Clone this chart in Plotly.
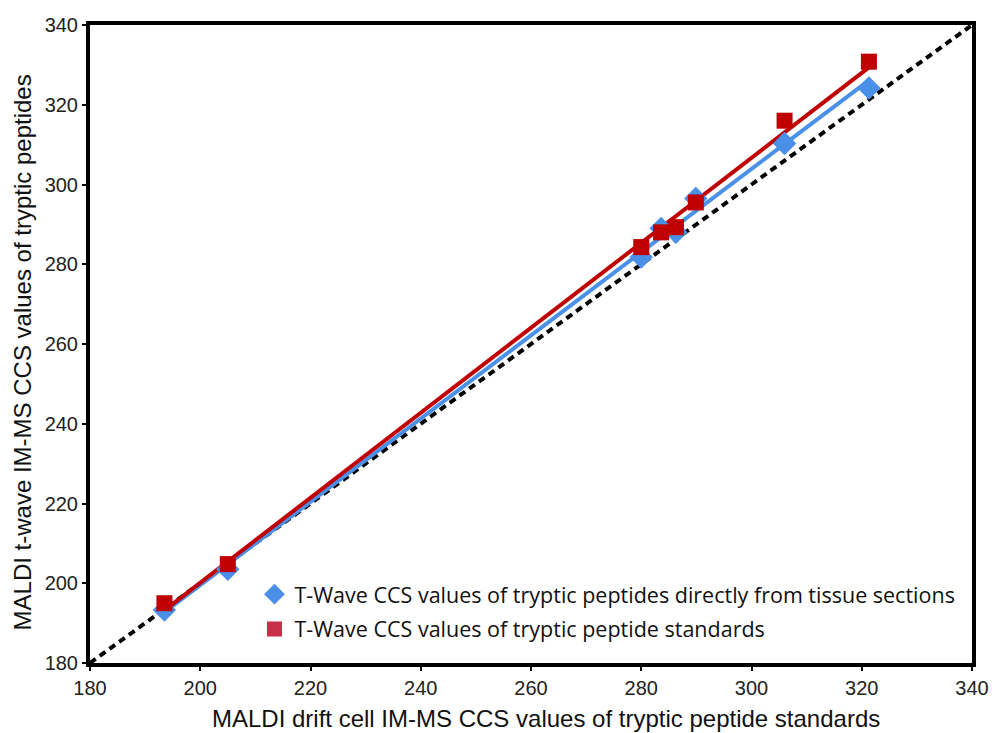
import numpy as np
import plotly.graph_objects as go

# Data
drift_x = [193.5, 205.0, 280.0, 283.6, 286.3, 289.9, 306.0, 321.3]
twave_tissue = [193.3, 203.5, 281.8, 289.0, 288.0, 296.5, 310.3, 324.2]
twave_std = [195.0, 204.8, 284.3, 288.0, 289.3, 295.5, 316.0, 330.8]

x_ticks = [180, 200, 220, 240, 260, 280, 300, 320, 340]
y_ticks = [180, 200, 220, 240, 260, 280, 300, 320, 340]

x_title = "MALDI drift cell IM-MS CCS values of tryptic peptide standards"
y_title = "MALDI t-wave IM-MS CCS values of tryptic peptides"

blue = "#4A90E8"
red = "#C00000"
legend_red = "#C8304A"

xs = np.array(drift_x)
fit_x = [xs.min(), xs.max()]
pb = np.polyfit(xs, twave_tissue, 1)
pr = np.polyfit(xs, twave_std, 1)

fig = go.Figure()

fig.add_trace(go.Scatter(x=[180, 340], y=[180, 340], mode="lines",
                         line=dict(color="black", width=4, dash="7px,5px"),
                         showlegend=False, hoverinfo="skip"))
fig.add_trace(go.Scatter(x=fit_x, y=np.polyval(pb, fit_x), mode="lines",
                         line=dict(color=blue, width=4), showlegend=False))
fig.add_trace(go.Scatter(x=fit_x, y=np.polyval(pr, fit_x), mode="lines",
                         line=dict(color=red, width=4), showlegend=False))
fig.add_trace(go.Scatter(x=drift_x, y=twave_tissue, mode="markers",
                         marker=dict(symbol="diamond", size=18, color=blue),
                         showlegend=False))
fig.add_trace(go.Scatter(x=drift_x, y=twave_std, mode="markers",
                         marker=dict(symbol="square", size=16, color=red),
                         showlegend=False))
# legend entries
fig.add_trace(go.Scatter(x=[None], y=[None], mode="markers", legendgroup="a",
                         marker=dict(symbol="diamond", size=16, color=blue),
                         name="T-Wave CCS values of tryptic peptides directly from tissue sections"))
fig.add_trace(go.Scatter(x=[None], y=[None], mode="markers", legendgroup="b",
                         marker=dict(symbol="square", size=15, color=legend_red),
                         name="T-Wave CCS values of tryptic peptide standards"))

axis_common = dict(showline=True, linecolor="black", linewidth=4, mirror=True,
                   ticks="outside", ticklen=4, tickwidth=2, tickcolor="black",
                   showgrid=False, zeroline=False,
                   tickfont=dict(family="Liberation Sans, Arial", size=20, color="#222"))

title_font = dict(family="Liberation Sans, Arial", size=24, color="#111")

fig.update_layout(
    width=1001, height=733,
    margin=dict(l=90, r=23, t=25, b=70),
    plot_bgcolor="white", paper_bgcolor="white",
    xaxis=dict(range=[180, 340], tickvals=x_ticks, **axis_common),
    yaxis=dict(range=[180, 340], tickvals=y_ticks, **axis_common),
    legend=dict(x=0.1865, y=0.14, xanchor="left", yanchor="top",
                bgcolor="rgba(0,0,0,0)",
                font=dict(family="Open Sans, Noto Sans", size=21.5, color="#111"),
                itemwidth=30, tracegroupgap=4),
    annotations=[
        dict(text=x_title, xref="paper", yref="paper",
             x=(549 - 90) / 888, y=-(718 - 663) / 638,
             xanchor="center", yanchor="middle", showarrow=False, font=title_font),
        dict(text=y_title, xref="paper", yref="paper",
             x=-(90 - 22) / 888, y=(663 - 352) / 638, textangle=-90,
             xanchor="center", yanchor="middle", showarrow=False, font=title_font),
    ],
)

fig.write_html("out.html")
